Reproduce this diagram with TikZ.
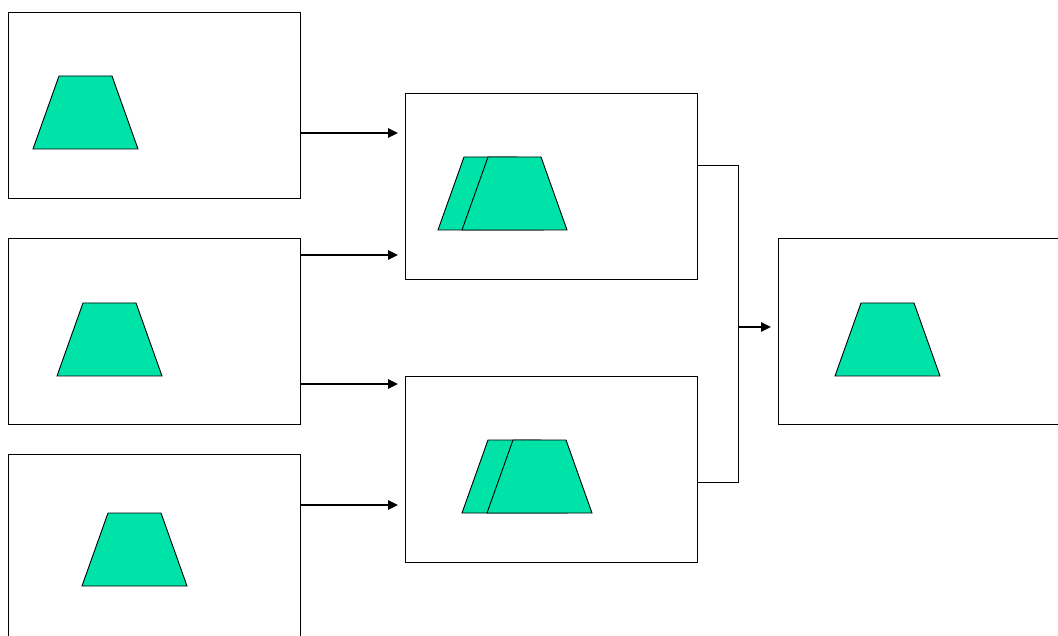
\documentclass[tikz,border=0pt]{standalone}
\usetikzlibrary{arrows.meta}
\definecolor{trapfill}{RGB}{0,227,168}
\tikzset{
  x=1pt, y=-1pt,
  box/.style={draw=black, line width=0.9pt, fill=white, minimum width=292pt, minimum height=186pt, inner sep=0pt, outer sep=0pt, anchor=north west},
  arr/.style={line width=2.4pt, -{Triangle[length=10pt,width=9pt]}},
  link/.style={line width=0.9pt},
  trapshape/.style={fill=trapfill, draw=black, line width=0.9pt, line join=miter},
  trap/.pic={\filldraw[trapshape] (0,0) -- (105,0) -- (79,-73) -- (26,-73) -- cycle;}
}
\begin{document}
\begin{tikzpicture}
\clip (0,0) rectangle (1058,636);
\fill[white] (0,0) rectangle (1058,636);
% boxes
\node[box] (b1) at (8,12) {};
\node[box] (b2) at (8,238) {};
\node[box] (b3) at (8,454) {};
\node[box] (m1) at (405,93) {};
\node[box] (m2) at (405,376) {};
\node[box] (r) at (778,238) {};
% trapezoids
\pic at (33,149) {trap};
\pic at (57,376) {trap};
\pic at (82,586) {trap};
\pic at (438,230) {trap};
\pic at (462,230) {trap};
\pic at (462,513) {trap};
\pic at (487,513) {trap};
\pic at (835,376) {trap};
% arrows
\draw[arr, shorten >=7pt] (b1.east |- 0,133) -- (m1.west |- 0,133);
\draw[arr, shorten >=7pt] (b2.east |- 0,255) -- (m1.west |- 0,255);
\draw[arr, shorten >=7pt] (b2.east |- 0,384) -- (m2.west |- 0,384);
\draw[arr, shorten >=7pt] (b3.east |- 0,505) -- (m2.west |- 0,505);
% join
\coordinate (j1) at (738,165);
\coordinate (j2) at (738,482);
\coordinate (jm) at (738,327);
\draw[link] (m1.east |- j1) -- (j1) -- (j2) -- (m2.east |- j2);
\draw[arr, shorten >=7pt] (jm) -- (r.west |- jm);
\end{tikzpicture}
\end{document}
